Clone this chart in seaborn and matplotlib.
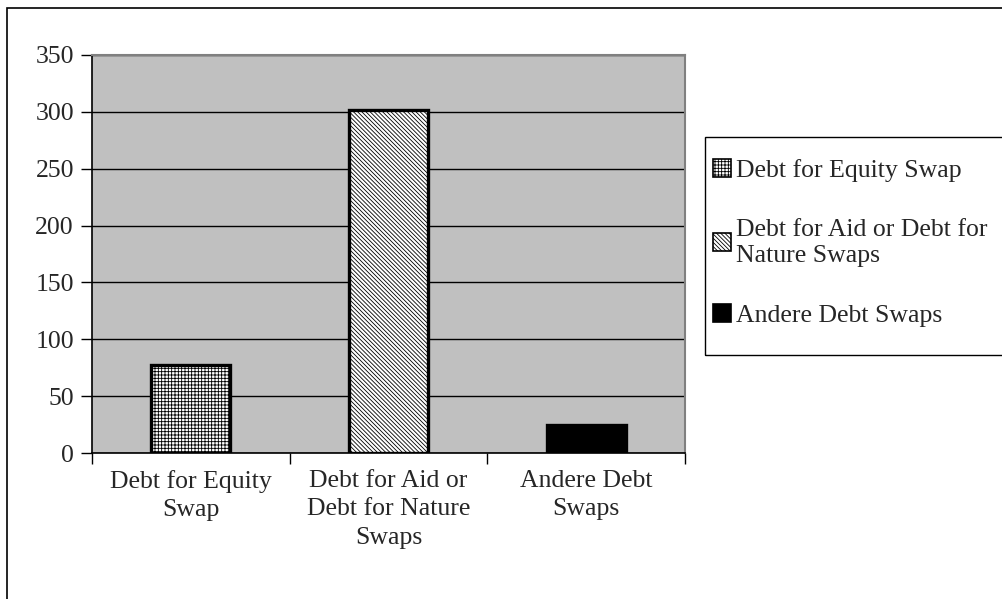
import matplotlib
matplotlib.use("Agg")
import matplotlib.pyplot as plt
import matplotlib.patches as mpatches
import seaborn as sns
import pandas as pd

categories = ["Debt for Equity Swap", "Debt for Aid or Debt for Nature Swaps", "Andere Debt Swaps"]
values = [77, 302, 25]
tickLabels = ["Debt for Equity\nSwap", "Debt for Aid or\nDebt for Nature\nSwaps", "Andere Debt\nSwaps"]
legendLabels = ["Debt for Equity Swap", "Debt for Aid or Debt for\nNature Swaps", "Andere Debt Swaps"]
yTicks = [0, 50, 100, 150, 200, 250, 300, 350]

sns.set_style("white")
plt.rcParams["font.family"] = ["Liberation Serif", "DejaVu Serif"]
plt.rcParams["hatch.color"] = "#606060"
plt.rcParams["hatch.linewidth"] = 0.6

df = pd.DataFrame({"cat": categories, "val": values})

fig = plt.figure(figsize=(10.03, 5.99), dpi=100)
ax = fig.add_axes([92 / 1003, 1 - 453 / 599, (685 - 92) / 1003, (453 - 55) / 599])
ax.set_facecolor("#c0c0c0")
ax.set_axisbelow(True)

sns.barplot(data=df, x="cat", y="val", hue="cat", dodge=False, width=0.4,
            palette=["white", "white", "black"], edgecolor="black", linewidth=2.4,
            legend=False, ax=ax)

hatches = ["+++++", "\\\\\\\\\\\\\\\\", ""]
for bar, h in zip(ax.patches, hatches):
    bar.set_hatch(h)

ax.set_ylim(0, 350)
ax.set_xlim(-0.5, 2.5)
ax.set_yticks(yTicks)
ax.yaxis.grid(True, color="black", linewidth=1.0)
ax.set_xticks(range(3))
ax.set_xticklabels(tickLabels, fontsize=18.5, linespacing=1.4)
ax.set_xticks([-0.5, 0.5, 1.5, 2.5], minor=True)
ax.tick_params(axis="x", which="major", bottom=False, length=0, pad=12)
ax.tick_params(axis="x", which="minor", bottom=True, length=8, width=1, color="black", direction="out")
ax.tick_params(axis="y", left=True, length=8, width=1, color="black", direction="out", labelsize=18.5, pad=5)
ax.set_xlabel("")
ax.set_ylabel("")

for side in ["top", "right"]:
    ax.spines[side].set_color("#808080")
    ax.spines[side].set_linewidth(1.5)
for side in ["left", "bottom"]:
    ax.spines[side].set_color("black")
    ax.spines[side].set_linewidth(1.2)

# legend entries, frame drawn separately
handles = []
for bar in ax.patches[:3]:
    handles.append(mpatches.Patch(facecolor=bar.get_facecolor(), edgecolor="black",
                                  hatch=bar.get_hatch(), linewidth=1.2))
leg = fig.legend(handles, legendLabels, loc="upper left",
                 bbox_to_anchor=(713 / 1003, 1 - 159 / 599),
                 fontsize=18.5, frameon=False,
                 handlelength=0.7, handleheight=0.7, handletextpad=0.2,
                 labelspacing=1.45, borderpad=0, borderaxespad=0)

fig.patches.append(mpatches.Rectangle((705 / 1003, 1 - 355 / 599), 0.5, (355 - 137) / 599,
                                      transform=fig.transFigure, fill=False,
                                      edgecolor="black", linewidth=1.0))

# outer chart border
fig.patches.append(mpatches.Rectangle((7 / 1003, -0.05), 1.1, 1 - 8 / 599 + 0.05,
                                      transform=fig.transFigure, fill=False,
                                      edgecolor="black", linewidth=1.2))

fig.savefig("out.png", dpi=100)
